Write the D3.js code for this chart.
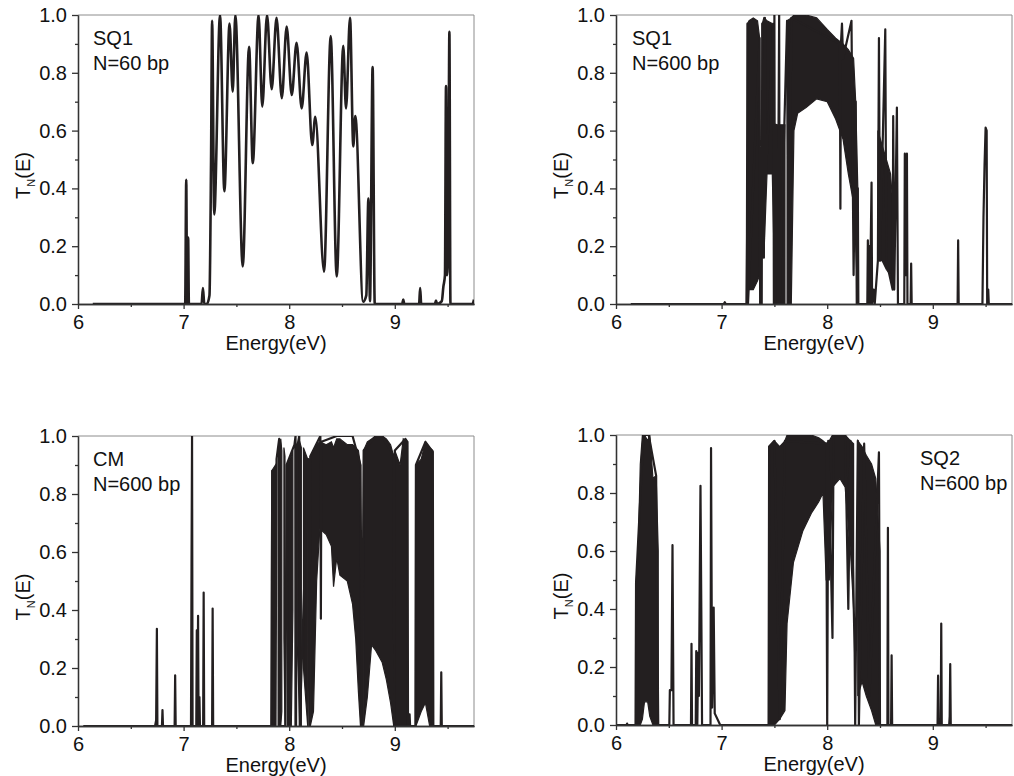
<!DOCTYPE html>
<html>
<head>
<meta charset="utf-8">
<script src="https://cdn.jsdelivr.net/npm/d3@7"></script>
<style>
  body { margin: 0; background: #fff; }
  svg { display: block; font-family: "Liberation Sans", Arial, sans-serif; }
</style>
</head>
<body>
<svg id="canvas" width="1014" height="776"></svg>
<script>
// axis ticks
let xMajor = [6, 7, 8, 9];
let xMinor = [6.5, 7.5, 8.5, 9.5];
let yMajor = [0, 0.2, 0.4, 0.6, 0.8, 1.0];
let yMinor = [0.1, 0.3, 0.5, 0.7, 0.9];

let panelLabels = [["SQ1", "N=60 bp"], ["SQ1", "N=600 bp"], ["CM", "N=600 bp"], ["SQ2", "N=600 bp"]];

// SQ1, N=60 : resonance curve [E, T]
let sq1n60 = [
  [6.14, 0], [7.015, 0], [7.025, 0.43], [7.033, 0], [7.043, 0.23], [7.05, 0],
  [7.17, 0], [7.183, 0.055], [7.196, 0], [7.22, 0], [7.245, 0.03], [7.26, 0.5],
  [7.27, 0.98], [7.29, 0.31], [7.345, 1.0], [7.386, 0.39], [7.435, 0.97], [7.465, 0.735],
  [7.49, 1.0], [7.56, 0.13], [7.62, 0.89], [7.655, 0.487], [7.71, 1.0], [7.745, 0.683],
  [7.79, 1.0], [7.834, 0.743], [7.88, 0.99], [7.93, 0.712], [7.976, 0.96], [8.024, 0.723],
  [8.07, 0.904], [8.118, 0.677], [8.165, 0.87], [8.218, 0.55], [8.247, 0.648], [8.33, 0.112],
  [8.393, 0.927], [8.45, 0.095], [8.512, 0.893], [8.538, 0.677], [8.576, 0.99], [8.607, 0.545],
  [8.626, 0.65], [8.70, 0.008], [8.73, 0.03], [8.75, 0.365], [8.765, 0.01], [8.79, 0.82],
  [8.81, 0], [9.07, 0], [9.08, 0.015], [9.09, 0], [9.23, 0], [9.24, 0.055], [9.25, 0],
  [9.38, 0], [9.39, 0.012], [9.40, 0], [9.445, 0.01], [9.46, 0.06], [9.475, 0.1],
  [9.485, 0.754], [9.495, 0.1], [9.505, 0.2], [9.517, 0.942], [9.527, 0], [9.735, 0], [9.75, 0.015]
];

// SQ1, N=600 : spikes [E, T] and dense bands [E, low, high]
let sq1n600Line = [
  [6.14, 0], [7.02, 0], [7.03, 0.006], [7.04, 0], [7.235, 0], [7.24, 0.23], [7.245, 0.97],
  [7.25, 0], [7.36, 0.92], [7.365, 0], [7.375, 0.32], [7.38, 0], [7.385, 0.97], [7.40, 0.16],
  [7.41, 0.99], [7.42, 0.45], [7.49, 0.97], [7.495, 0], [7.50, 1.0], [7.505, 0], [7.515, 0.62],
  [7.53, 0], [7.545, 1.0], [7.55, 0], [7.62, 0.98], [7.64, 0], [7.66, 0.99], [8.12, 0.9],
  [8.125, 0.33], [8.13, 0.9], [8.14, 0.97], [8.15, 0.85], [8.23, 0.98], [8.25, 0.1],
  [8.27, 0.7], [8.28, 0], [8.29, 0.4], [8.295, 0], [8.38, 0], [8.385, 0.22], [8.39, 0],
  [8.40, 0.2], [8.405, 0], [8.42, 0.42], [8.425, 0], [8.44, 0.05], [8.45, 0], [8.48, 0.15],
  [8.49, 0.92], [8.50, 0.15], [8.55, 0.95], [8.56, 0.15], [8.62, 0.05], [8.625, 0.65],
  [8.635, 0.05], [8.66, 0.68], [8.67, 0], [8.73, 0], [8.735, 0.52], [8.745, 0.1],
  [8.755, 0.52], [8.76, 0], [8.79, 0], [8.795, 0.14], [8.80, 0], [9.235, 0], [9.24, 0.22],
  [9.245, 0], [9.47, 0], [9.48, 0.3], [9.49, 0.48], [9.50, 0.61], [9.51, 0.6], [9.515, 0],
  [9.525, 0.05], [9.53, 0], [9.75, 0]
];
let sq1n600Band = [
  [7.245, 0.2, 0.97], [7.26, 0.05, 0.98], [7.30, 0.05, 0.99], [7.34, 0.08, 0.98], [7.36, 0.1, 0.92],
  [7.37, null, null],
  [7.385, 0.3, 0.97], [7.40, 0.16, 0.99], [7.43, 0.45, 0.98], [7.48, 0.45, 0.97], [7.495, 0.2, 0.6],
  [7.50, null, null],
  [7.515, 0, 0.62], [7.60, 0, 0.62],
  [7.61, null, null],
  [7.62, 0, 0.98], [7.66, 0, 0.99], [7.685, 0.6, 1.0], [7.72, 0.66, 1.0], [7.80, 0.68, 1.0],
  [7.90, 0.71, 0.99], [8.00, 0.70, 0.95], [8.08, 0.64, 0.92], [8.15, 0.57, 0.9], [8.20, 0.45, 0.88],
  [8.25, 0.35, 0.85], [8.27, 0.2, 0.7], [8.29, 0, 0.4],
  [8.30, null, null],
  [8.48, 0.15, 0.6], [8.52, 0.15, 0.55], [8.56, 0.12, 0.5], [8.60, 0.1, 0.45], [8.62, 0.05, 0.35]
];

// CM, N=600
let cmLine = [
  [6.05, 0], [6.73, 0], [6.74, 0.02], [6.747, 0.335], [6.752, 0], [6.795, 0], [6.80, 0.055],
  [6.805, 0], [6.915, 0], [6.92, 0.175], [6.925, 0], [7.07, 0], [7.075, 0.55], [7.08, 1.0],
  [7.085, 0], [7.12, 0], [7.125, 0.33], [7.13, 0], [7.137, 0.38], [7.142, 0], [7.15, 0.1],
  [7.155, 0], [7.185, 0], [7.19, 0.46], [7.195, 0], [7.27, 0], [7.275, 0.405], [7.28, 0],
  [7.83, 0], [7.835, 0.5], [7.84, 0.88], [7.87, 0], [7.88, 0.92], [7.905, 0.99], [7.91, 0],
  [7.965, 0], [7.975, 0.9], [8.05, 0.97], [8.06, 1.0], [8.065, 0], [8.07, 0.95], [8.095, 1.0],
  [8.10, 0], [8.18, 0.92], [8.19, 0], [8.20, 0.93], [8.295, 1.0], [8.30, 0.37], [8.305, 0.98],
  [8.45, 1.0], [8.50, 1.0], [8.60, 1.0], [8.675, 0.9], [8.69, 0], [8.705, 0.95], [8.82, 1.0],
  [8.88, 1.0], [8.99, 0.93], [8.995, 0], [9.00, 0.95], [9.10, 0.99], [9.12, 0.98], [9.125, 0],
  [9.14, 0.04], [9.145, 0], [9.195, 0], [9.20, 0.9], [9.29, 0.98], [9.36, 0.945], [9.365, 0],
  [9.435, 0], [9.44, 0.185], [9.445, 0], [9.75, 0]
];
let cmBand = [
  [7.835, 0, 0.88], [7.87, 0, 0.9],
  [7.885, null, null],
  [7.895, 0, 0.92], [7.92, 0, 0.99], [7.93, 0.05, 0.95],
  [7.94, null, null],
  [7.95, 0.3, 0.96], [7.96, 0, 0.93],
  [7.97, null, null],
  [7.985, 0, 0.9], [8.02, 0, 0.93], [8.035, 0.4, 0.95],
  [8.045, null, null],
  [8.055, 0, 0.97],
  [8.06, null, null],
  [8.075, 0.3, 0.95], [8.10, 0, 0.98], [8.115, 0, 0.96],
  [8.125, null, null],
  [8.135, 0.2, 0.96], [8.175, 0, 0.92],
  [8.19, null, null],
  [8.20, 0, 0.93], [8.23, 0.05, 0.95], [8.26, 0.5, 0.97], [8.29, 0.68, 0.98], [8.35, 0.66, 0.97],
  [8.40, 0.62, 0.98], [8.42, 0.48, 0.96], [8.45, 0.58, 0.99], [8.48, 0.52, 0.99], [8.55, 0.5, 0.97],
  [8.60, 0.42, 0.97], [8.63, 0.3, 0.96], [8.655, 0.12, 0.95], [8.675, 0, 0.9],
  [8.69, null, null],
  [8.705, 0, 0.95], [8.74, 0.1, 0.98], [8.78, 0.28, 0.99], [8.82, 0.26, 1.0], [8.88, 0.22, 1.0],
  [8.92, 0.16, 0.99], [8.96, 0.08, 0.97], [8.99, 0, 0.93],
  [8.995, null, null],
  [9.00, 0, 0.95], [9.05, 0, 0.9], [9.08, 0, 0.99], [9.12, 0, 0.98],
  [9.15, null, null],
  [9.20, 0, 0.9], [9.25, 0.05, 0.92], [9.29, 0.08, 0.98], [9.33, 0, 0.96], [9.36, 0, 0.95]
];

// SQ2, N=600
let sq2Line = [
  [6.0, 0], [6.10, 0], [6.105, 0.005], [6.11, 0], [6.185, 0], [6.19, 0.49], [6.26, 1.0],
  [6.31, 1.0], [6.38, 0.86], [6.40, 0], [6.505, 0], [6.51, 0.12], [6.525, 0.12], [6.535, 0.62],
  [6.545, 0], [6.71, 0], [6.715, 0.28], [6.72, 0], [6.755, 0], [6.76, 0.255], [6.77, 0],
  [6.778, 0.25], [6.785, 0.1], [6.80, 0.825], [6.81, 0.28], [6.815, 0], [6.895, 0], [6.90, 0.955],
  [6.91, 0.06], [6.925, 0.405], [6.935, 0.04], [6.98, 0.005], [6.99, 0], [7.445, 0], [7.45, 0.96],
  [7.50, 0.98], [7.55, 0.02], [7.60, 0.98], [7.99, 0.97], [8.00, 0], [8.01, 0.98], [8.05, 0.3],
  [8.06, 1.0], [8.17, 1.0], [8.20, 0.4], [8.22, 0.98], [8.26, 0.25], [8.265, 0], [8.29, 0.98],
  [8.30, 0], [8.35, 0.97], [8.40, 0.1], [8.49, 0.94], [8.50, 0], [8.57, 0], [8.575, 0.68],
  [8.58, 0], [8.605, 0], [8.61, 0.24], [8.615, 0], [9.045, 0], [9.05, 0.17], [9.055, 0],
  [9.075, 0], [9.08, 0.35], [9.085, 0], [9.155, 0], [9.16, 0.03], [9.165, 0.21], [9.17, 0],
  [9.75, 0]
];
let sq2Band = [
  [6.19, 0, 0.49], [6.21, 0, 0.6], [6.23, 0, 0.9], [6.25, 0.02, 1.0], [6.27, 0.08, 1.0],
  [6.30, 0.08, 0.98], [6.32, 0.03, 1.0], [6.35, 0, 0.85], [6.38, 0, 0.86], [6.40, 0, 0.6],
  [6.41, null, null],
  [7.45, 0, 0.96], [7.50, 0, 0.98], [7.55, 0.02, 0.96], [7.60, 0.05, 0.98], [7.62, 0.35, 1.0],
  [7.68, 0.56, 1.0], [7.77, 0.67, 1.0], [7.85, 0.73, 1.0], [7.92, 0.77, 0.99], [7.96, 0.8, 0.98],
  [7.99, 0.5, 0.97], [8.02, 0.5, 0.98], [8.05, 0.82, 1.0], [8.12, 0.85, 1.0], [8.17, 0.82, 1.0],
  [8.22, 0.6, 0.98], [8.25, 0.4, 0.97],
  [8.27, null, null],
  [8.29, 0.1, 0.98], [8.33, 0.15, 0.96], [8.37, 0.1, 0.93], [8.42, 0.05, 0.9], [8.46, 0, 0.85],
  [8.50, 0, 0.6]
];

let panels = [
  { left: 78, top: 15, width: 396, height: 289, line: sq1n60, band: null, smooth: true, labelX: 15 },
  { left: 616, top: 15, width: 396, height: 289, line: sq1n600Line, band: sq1n600Band, smooth: false, labelX: 16 },
  { left: 78, top: 436, width: 396, height: 290, line: cmLine, band: cmBand, smooth: false, labelX: 15 },
  { left: 616, top: 435, width: 396, height: 290, line: sq2Line, band: sq2Band, smooth: false, labelX: 304 }
];

let ink = "#231f20";
let canvas = d3.select("#canvas");

panels.forEach((p, i) => {
  let g = canvas.append("g").attr("transform", `translate(${p.left},${p.top})`);
  let x = d3.scaleLinear().domain([6, 9.75]).range([0, p.width]);
  let y = d3.scaleLinear().domain([0, 1]).range([p.height, 0]);

  g.append("clipPath").attr("id", "clip" + i)
    .append("rect").attr("width", p.width).attr("height", p.height);

  // frame (top & right)
  g.append("path")
    .attr("d", `M0,0H${p.width}V${p.height}`)
    .attr("fill", "none").attr("stroke", "#8c8c8c").attr("stroke-width", 1);

  let plot = g.append("g").attr("clip-path", `url(#clip${i})`);

  if (p.band) {
    let area = d3.area()
      .defined(d => d[1] != null)
      .x(d => x(d[0]))
      .y0(d => y(d[1]))
      .y1(d => y(d[2]));
    plot.append("path").datum(p.band)
      .attr("d", area)
      .attr("fill", ink).attr("stroke", ink).attr("stroke-width", 1.2);
  }

  let line = d3.line()
    .x(d => x(d[0]))
    .y(d => y(d[1]))
    .curve(p.smooth ? d3.curveMonotoneX : d3.curveLinear);
  plot.append("path").datum(p.line)
    .attr("d", line)
    .attr("fill", "none").attr("stroke", ink)
    .attr("stroke-width", p.smooth ? 2.6 : 2.2)
    .attr("stroke-linejoin", "round");

  // axes
  let xAxis = g.append("g").attr("transform", `translate(0,${p.height})`)
    .call(d3.axisBottom(x).tickValues(xMajor).tickFormat(d3.format("d"))
      .tickSizeInner(5).tickSizeOuter(0).tickPadding(6));
  let xAxisMinor = g.append("g").attr("transform", `translate(0,${p.height})`)
    .call(d3.axisBottom(x).tickValues(xMinor).tickFormat("").tickSizeInner(3).tickSizeOuter(0));
  let yAxis = g.append("g")
    .call(d3.axisLeft(y).tickValues(yMajor).tickFormat(d3.format(".1f"))
      .tickSizeInner(6).tickSizeOuter(0).tickPadding(5));
  let yAxisMinor = g.append("g")
    .call(d3.axisLeft(y).tickValues(yMinor).tickFormat("").tickSizeInner(3).tickSizeOuter(0));

  [xAxis, xAxisMinor, yAxis, yAxisMinor].forEach(a => {
    a.selectAll("path, line").attr("stroke", "#333").attr("stroke-width", 1.3);
    a.selectAll("text").attr("fill", "#111").style("font-size", "20px")
      .style("font-family", '"Liberation Sans", Arial, sans-serif');
  });

  // axis titles
  g.append("text")
    .attr("x", p.width / 2).attr("y", p.height + 46)
    .attr("text-anchor", "middle")
    .style("font-size", "20px").attr("fill", "#111")
    .text("Energy(eV)");

  let yt = g.append("text")
    .attr("transform", `translate(-48,${p.height / 2 + 16}) rotate(-90)`)
    .attr("text-anchor", "middle")
    .style("font-size", "20px").attr("fill", "#111");
  yt.append("tspan").text("T");
  yt.append("tspan").attr("dy", 5).style("font-size", "11px").text("N");
  yt.append("tspan").attr("dy", -5).text("(E)");

  // panel annotation
  panelLabels[i].forEach((t, k) => {
    g.append("text")
      .attr("x", p.labelX).attr("y", 30 + k * 25)
      .style("font-size", "20px").attr("fill", "#111")
      .text(t);
  });
});
</script>
</body>
</html>
